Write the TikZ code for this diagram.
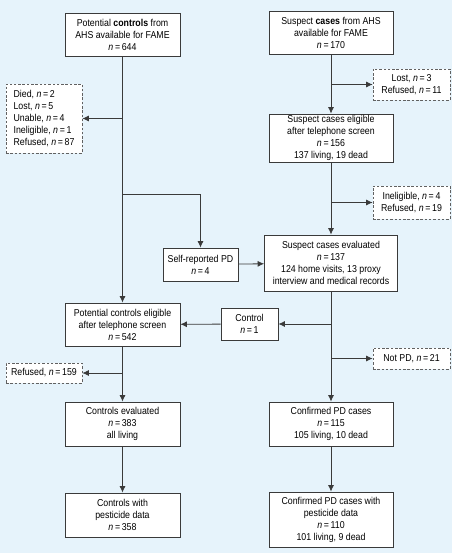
\documentclass[tikz,border=0pt]{standalone}
\usepackage{fontspec}
\setmainfont{Liberation Sans}[FakeStretch=0.88]
\usepackage{tikz}
\usetikzlibrary{arrows.meta,positioning}
\definecolor{panel}{HTML}{E6F3FB}
\definecolor{ink}{HTML}{3A3A3A}
\tikzset{>={Latex[length=6.5pt,width=6pt]}}
\newcommand{\nval}[1]{\textit{n}\,=\,#1}

\begin{document}
\begin{tikzpicture}[x=1pt,y=-1pt,
    box/.style={draw=ink,fill=white,line width=0.8pt,align=center,inner sep=1pt,
      font=\fontsize{10}{12}\selectfont},
    drop/.style={draw=ink!80,fill=white,line width=0.7pt,dash pattern=on 2.5pt off 1.8pt,
      align=center,inner sep=1pt,font=\fontsize{10}{12}\selectfont},
    flow/.style={->,draw=ink,line width=0.8pt}]

  % Background
  \useasboundingbox (0,0) rectangle (457,556);
  \fill[panel] (0,0) rectangle (452,553);

  % Nodes -- controls
  \node[box,minimum width=115pt,minimum height=43pt] (ctrlAll) at (122.5,34.5)
    {Potential \textbf{controls} from\\AHS available for FAME\\\nval{644}};
  \node[drop,minimum width=76pt,minimum height=69pt,align=left] (ctrlLoss) at (44,118.5)
    {Died, \nval{2}\\Lost, \nval{5}\\Unable, \nval{4}\\Ineligible, \nval{1}\\Refused, \nval{87}};
  \node[box,minimum width=115pt,minimum height=43pt] (ctrlElig) at (122.5,324.5)
    {Potential controls eligible\\after telephone screen\\\nval{542}};
  \node[drop,minimum width=76pt,minimum height=20pt] (ctrlRef) at (44,373)
    {Refused, \nval{159}};
  \node[box,minimum width=115pt,minimum height=44pt] (ctrlEval) at (122.5,424)
    {Controls evaluated\\\nval{383}\\all living};
  \node[box,minimum width=115pt,minimum height=44pt] (ctrlPest) at (122.5,515)
    {Controls with\\pesticide data\\\nval{358}};

  % Nodes -- cases
  \node[box,minimum width=124pt,minimum height=43pt] (caseAll) at (331,32.5)
    {Suspect \textbf{cases} from AHS\\available for FAME\\\nval{170}};
  \node[drop,minimum width=77pt,minimum height=31pt] (caseLoss) at (411.5,84.5)
    {Lost, \nval{3}\\Refused, \nval{11}};
  \node[box,minimum width=124pt,minimum height=48pt] (caseElig) at (331,138)
    {Suspect cases eligible\\after telephone screen\\\nval{156}\\137 living, 19 dead};
  \node[drop,minimum width=77pt,minimum height=33pt] (caseInel) at (411.5,202.5)
    {Ineligible, \nval{4}\\Refused, \nval{19}};
  \node[box,minimum width=75pt,minimum height=33pt] (selfPD) at (200.5,264.5)
    {Self-reported PD\\\nval{4}};
  \node[box,minimum width=133pt,minimum height=56pt] (caseEval) at (331,263)
    {Suspect cases evaluated\\\nval{137}\\124 home visits, 13 proxy\\interview and medical records};
  \node[box,minimum width=57pt,minimum height=32pt] (toCtrl) at (249.5,324)
    {Control\\\nval{1}};
  \node[drop,minimum width=77pt,minimum height=21pt] (notPD) at (411.5,358.5)
    {Not PD, \nval{21}};
  \node[box,minimum width=124pt,minimum height=44pt] (pdConf) at (331,424)
    {Confirmed PD cases\\\nval{115}\\105 living, 10 dead};
  \node[box,minimum width=124pt,minimum height=55pt] (pdPest) at (331,519.5)
    {Confirmed PD cases with\\pesticide data\\\nval{110}\\101 living, 9 dead};

  \coordinate (split) at (122.5,194);

  % Edges
  \draw[flow] (ctrlAll) -- (ctrlElig);
  \draw[flow] (ctrlAll.south |- ctrlLoss.east) -- (ctrlLoss);
  \draw[flow] (split) -| (selfPD);
  \draw[flow] (ctrlElig) -- (ctrlEval);
  \draw[flow] (ctrlElig.south |- ctrlRef.east) -- (ctrlRef);
  \draw[flow] (ctrlEval) -- (ctrlPest);

  \draw[flow] (caseAll) -- (caseElig);
  \draw[flow] (caseAll.south |- caseLoss.west) -- (caseLoss);
  \draw[flow] (caseElig) -- (caseEval);
  \draw[flow] (caseElig.south |- caseInel.west) -- (caseInel);
  \draw[flow] (selfPD) -- (caseEval);
  \draw[flow] (caseEval) -- (pdConf);
  \draw[flow] (caseEval.south |- toCtrl.east) -- (toCtrl);
  \draw[flow] (toCtrl) -- (ctrlElig);
  \draw[flow] (caseEval.south |- notPD.west) -- (notPD);
  \draw[flow] (pdConf) -- (pdPest);
\end{tikzpicture}
\end{document}
